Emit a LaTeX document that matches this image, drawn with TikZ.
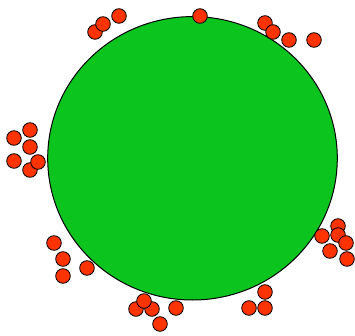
\documentclass[tikz,border=0pt]{standalone}
\usepackage{tikz}
\definecolor{cellGreen}{RGB}{12,196,30}
\definecolor{dotRed}{RGB}{255,51,0}

\begin{document}
\begin{tikzpicture}[x=1pt,y=-1pt,
  cell/.style={draw=black,fill=cellGreen,line width=1pt},
  dot/.style={draw=black,fill=dotRed,line width=0.8pt}]
\useasboundingbox (0,0) rectangle (355,336);
\draw[cell] (192.5,158.3) ellipse [x radius=144.8,y radius=141.7];
\foreach \px/\py in {95/32,103/24,119/16,200/16,265/23,273/32,289/40,314/40,
  30/130,14/138,30/147,14/161,30/170,38/162,54/243,63/259,63/276,87/268,
  136/309,152/309,144/301,160/324,176/308,249/308,265/308,265/292,
  322/236,338/226,338/235,346/243,330/251,347/259}
  \draw[dot] (\px,\py) circle [radius=7.3];
\end{tikzpicture}
\end{document}
